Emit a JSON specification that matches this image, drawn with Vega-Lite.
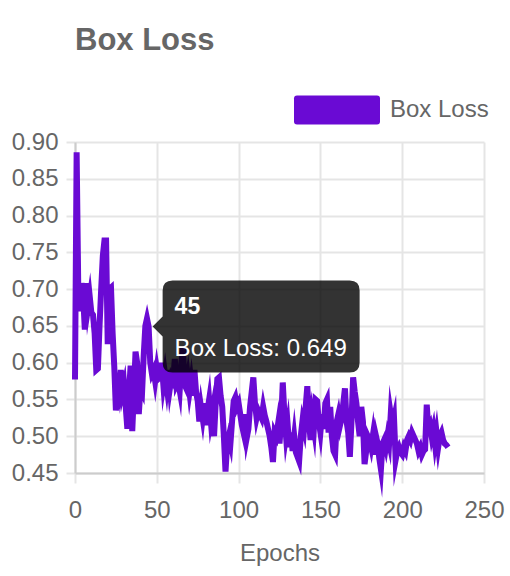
{
  "$schema": "https://vega.github.io/schema/vega-lite/v6.json",
  "width": 409,
  "height": 331,
  "autosize": {"type": "none"},
  "padding": {"left": 75, "top": 142, "right": 26, "bottom": 103},
  "background": "white",
  "title": {"text": "Box Loss", "anchor": "start", "frame": "group", "font": "Liberation Sans", "fontSize": 31, "fontWeight": "bold", "color": "#666666", "offset": 10},
  "config": {"view": {"stroke": null}, "font": "Liberation Sans"},
  "datasets": {
    "loss": [
      {"epoch":0,"loss":0.577},{"epoch":1,"loss":0.886},{"epoch":2,"loss":0.700},{"epoch":3,"loss":0.670},{"epoch":4,"loss":0.708},
      {"epoch":5,"loss":0.690},{"epoch":6,"loss":0.645},{"epoch":7,"loss":0.708},{"epoch":8,"loss":0.675},{"epoch":9,"loss":0.690},
      {"epoch":10,"loss":0.668},{"epoch":11,"loss":0.665},{"epoch":12,"loss":0.640},{"epoch":13,"loss":0.590},{"epoch":14,"loss":0.592},
      {"epoch":15,"loss":0.650},{"epoch":16,"loss":0.700},{"epoch":17,"loss":0.745},{"epoch":18,"loss":0.766},{"epoch":19,"loss":0.766},
      {"epoch":20,"loss":0.625},{"epoch":21,"loss":0.700},{"epoch":22,"loss":0.702},{"epoch":23,"loss":0.640},{"epoch":24,"loss":0.595},
      {"epoch":25,"loss":0.535},{"epoch":26,"loss":0.580},{"epoch":27,"loss":0.565},{"epoch":28,"loss":0.590},{"epoch":29,"loss":0.560},
      {"epoch":30,"loss":0.570},{"epoch":31,"loss":0.540},{"epoch":32,"loss":0.510},{"epoch":33,"loss":0.560},{"epoch":34,"loss":0.596},
      {"epoch":35,"loss":0.507},{"epoch":36,"loss":0.560},{"epoch":37,"loss":0.615},{"epoch":38,"loss":0.600},{"epoch":39,"loss":0.530},
      {"epoch":40,"loss":0.565},{"epoch":41,"loss":0.560},{"epoch":42,"loss":0.610},{"epoch":43,"loss":0.650},{"epoch":44,"loss":0.660},
      {"epoch":45,"loss":0.649},{"epoch":46,"loss":0.600},{"epoch":47,"loss":0.585},{"epoch":48,"loss":0.590},{"epoch":49,"loss":0.575},
      {"epoch":50,"loss":0.592},{"epoch":51,"loss":0.578},{"epoch":52,"loss":0.580},{"epoch":53,"loss":0.600},{"epoch":54,"loss":0.570},
      {"epoch":55,"loss":0.585},{"epoch":56,"loss":0.568},{"epoch":57,"loss":0.590},{"epoch":58,"loss":0.565},{"epoch":59,"loss":0.580},
      {"epoch":60,"loss":0.575},{"epoch":61,"loss":0.605},{"epoch":62,"loss":0.570},{"epoch":63,"loss":0.575},{"epoch":64,"loss":0.562},
      {"epoch":65,"loss":0.600},{"epoch":66,"loss":0.620},{"epoch":67,"loss":0.570},{"epoch":68,"loss":0.565},{"epoch":69,"loss":0.580},
      {"epoch":70,"loss":0.560},{"epoch":71,"loss":0.575},{"epoch":72,"loss":0.555},{"epoch":73,"loss":0.590},{"epoch":74,"loss":0.560},
      {"epoch":75,"loss":0.548},{"epoch":76,"loss":0.520},{"epoch":77,"loss":0.540},{"epoch":78,"loss":0.525},{"epoch":79,"loss":0.545},
      {"epoch":80,"loss":0.515},{"epoch":81,"loss":0.535},{"epoch":82,"loss":0.550},{"epoch":83,"loss":0.522},{"epoch":84,"loss":0.535},
      {"epoch":85,"loss":0.500},{"epoch":86,"loss":0.545},{"epoch":87,"loss":0.578},{"epoch":88,"loss":0.580},{"epoch":89,"loss":0.555},
      {"epoch":90,"loss":0.540},{"epoch":91,"loss":0.500},{"epoch":92,"loss":0.452},{"epoch":93,"loss":0.490},{"epoch":94,"loss":0.500},
      {"epoch":95,"loss":0.490},{"epoch":96,"loss":0.520},{"epoch":97,"loss":0.548},{"epoch":98,"loss":0.553},{"epoch":99,"loss":0.540},
      {"epoch":100,"loss":0.545},{"epoch":101,"loss":0.530},{"epoch":102,"loss":0.515},{"epoch":103,"loss":0.505},{"epoch":104,"loss":0.530},
      {"epoch":105,"loss":0.498},{"epoch":106,"loss":0.510},{"epoch":107,"loss":0.540},{"epoch":108,"loss":0.560},{"epoch":109,"loss":0.580},
      {"epoch":110,"loss":0.545},{"epoch":111,"loss":0.525},{"epoch":112,"loss":0.535},{"epoch":113,"loss":0.530},{"epoch":114,"loss":0.525},
      {"epoch":115,"loss":0.540},{"epoch":116,"loss":0.528},{"epoch":117,"loss":0.520},{"epoch":118,"loss":0.510},{"epoch":119,"loss":0.500},
      {"epoch":120,"loss":0.485},{"epoch":121,"loss":0.465},{"epoch":122,"loss":0.505},{"epoch":123,"loss":0.500},{"epoch":124,"loss":0.515},
      {"epoch":125,"loss":0.490},{"epoch":126,"loss":0.520},{"epoch":127,"loss":0.573},{"epoch":128,"loss":0.530},{"epoch":129,"loss":0.500},
      {"epoch":130,"loss":0.515},{"epoch":131,"loss":0.485},{"epoch":132,"loss":0.505},{"epoch":133,"loss":0.480},{"epoch":134,"loss":0.500},
      {"epoch":135,"loss":0.478},{"epoch":136,"loss":0.472},{"epoch":137,"loss":0.466},{"epoch":138,"loss":0.500},{"epoch":139,"loss":0.520},
      {"epoch":140,"loss":0.510},{"epoch":141,"loss":0.540},{"epoch":142,"loss":0.568},{"epoch":143,"loss":0.520},{"epoch":144,"loss":0.495},
      {"epoch":145,"loss":0.525},{"epoch":146,"loss":0.510},{"epoch":147,"loss":0.550},{"epoch":148,"loss":0.548},{"epoch":149,"loss":0.520},
      {"epoch":150,"loss":0.505},{"epoch":151,"loss":0.530},{"epoch":152,"loss":0.510},{"epoch":153,"loss":0.545},{"epoch":154,"loss":0.550},
      {"epoch":155,"loss":0.505},{"epoch":156,"loss":0.540},{"epoch":157,"loss":0.500},{"epoch":158,"loss":0.480},{"epoch":159,"loss":0.475},
      {"epoch":160,"loss":0.520},{"epoch":161,"loss":0.530},{"epoch":162,"loss":0.515},{"epoch":163,"loss":0.525},{"epoch":164,"loss":0.545},
      {"epoch":165,"loss":0.565},{"epoch":166,"loss":0.520},{"epoch":167,"loss":0.505},{"epoch":168,"loss":0.472},{"epoch":169,"loss":0.520},
      {"epoch":170,"loss":0.580},{"epoch":171,"loss":0.560},{"epoch":172,"loss":0.545},{"epoch":173,"loss":0.520},{"epoch":174,"loss":0.500},
      {"epoch":175,"loss":0.540},{"epoch":176,"loss":0.520},{"epoch":177,"loss":0.462},{"epoch":178,"loss":0.480},{"epoch":179,"loss":0.500},
      {"epoch":180,"loss":0.495},{"epoch":181,"loss":0.485},{"epoch":182,"loss":0.500},{"epoch":183,"loss":0.475},{"epoch":184,"loss":0.500},
      {"epoch":185,"loss":0.490},{"epoch":186,"loss":0.470},{"epoch":187,"loss":0.455},{"epoch":188,"loss":0.490},{"epoch":189,"loss":0.495},
      {"epoch":190,"loss":0.485},{"epoch":191,"loss":0.500},{"epoch":192,"loss":0.490},{"epoch":193,"loss":0.530},{"epoch":194,"loss":0.515},
      {"epoch":195,"loss":0.525},{"epoch":196,"loss":0.468},{"epoch":197,"loss":0.480},{"epoch":198,"loss":0.485},{"epoch":199,"loss":0.478},
      {"epoch":200,"loss":0.475},{"epoch":201,"loss":0.485},{"epoch":202,"loss":0.480},{"epoch":203,"loss":0.495},{"epoch":204,"loss":0.500},
      {"epoch":205,"loss":0.495},{"epoch":206,"loss":0.505},{"epoch":207,"loss":0.500},{"epoch":208,"loss":0.495},{"epoch":209,"loss":0.490},
      {"epoch":210,"loss":0.480},{"epoch":211,"loss":0.485},{"epoch":212,"loss":0.475},{"epoch":213,"loss":0.480},{"epoch":214,"loss":0.482},
      {"epoch":215,"loss":0.543},{"epoch":216,"loss":0.510},{"epoch":217,"loss":0.515},{"epoch":218,"loss":0.500},{"epoch":219,"loss":0.510},
      {"epoch":220,"loss":0.490},{"epoch":221,"loss":0.505},{"epoch":222,"loss":0.485},{"epoch":223,"loss":0.500},{"epoch":224,"loss":0.505},
      {"epoch":225,"loss":0.495},{"epoch":226,"loss":0.490},{"epoch":227,"loss":0.488},{"epoch":228,"loss":0.485}
    ],
    "tip": [{"epoch": 45, "loss": 0.649, "heading": "45", "label": "Box Loss: 0.649"}]
  },
  "layer": [
    {
      "data": {"name": "loss"},
      "mark": {"type": "line", "strokeWidth": 6, "strokeJoin": "miter", "strokeMiterLimit": 10, "strokeCap": "butt"},
      "encoding": {
        "x": {
          "field": "epoch", "type": "quantitative",
          "scale": {"domain": [0, 250], "nice": false},
          "axis": {
            "values": [0, 50, 100, 150, 200, 250], "tickCount": 20, "title": "Epochs",
            "titleFont": "Liberation Sans", "titleFontSize": 24, "titleFontWeight": "normal", "titleColor": "#666666", "titlePadding": 19,
            "labelFont": "Liberation Sans", "labelFontSize": 24, "labelColor": "#666666", "labelPadding": 15, "labelFlush": false, "labelOverlap": false,
            "tickSize": 10, "tickColor": "#e5e5e5", "tickWidth": 2,
            "gridColor": "#e5e5e5", "gridWidth": 2, "domainColor": "#cccccc", "domainWidth": 2
          }
        },
        "y": {
          "field": "loss", "type": "quantitative",
          "scale": {"domain": [0.45, 0.9], "nice": false, "zero": false},
          "axis": {
            "values": [0.45, 0.5, 0.55, 0.6, 0.65, 0.7, 0.75, 0.8, 0.85, 0.9], "tickCount": 20, "format": ".2f", "title": null,
            "labelFont": "Liberation Sans", "labelFontSize": 24, "labelColor": "#666666", "labelPadding": 8, "labelOverlap": false, "labelFlush": false,
            "tickSize": 9, "tickColor": "#e5e5e5", "tickWidth": 2,
            "gridColor": "#e5e5e5", "gridWidth": 2, "domainColor": "#cccccc", "domainWidth": 2
          }
        },
        "color": {
          "datum": "Box Loss",
          "scale": {"range": ["#6a0ad4"]},
          "legend": {
            "title": null, "orient": "none", "legendX": 219, "legendY": -75, "padding": 0,
            "symbolType": "M-0.93,-0.337H0.93Q1,-0.337 1,-0.267V0.267Q1,0.337 0.93,0.337H-0.93Q-1,0.337 -1,0.267V-0.267Q-1,-0.337 -0.93,-0.337Z",
            "symbolSize": 7396, "symbolFillColor": "#6a0ad4", "symbolStrokeWidth": 0, "symbolOpacity": 1,
            "labelFont": "Liberation Sans", "labelFontSize": 24, "labelColor": "#666666", "labelOffset": 10,
            "encode": {"symbols": {"update": {"fill": {"value": "#6a0ad4"}, "strokeWidth": {"value": 0}, "opacity": {"value": 1}}}}
          }
        }
      }
    },
    {
      "data": {"name": "tip"},
      "mark": {"type": "point", "shape": "M4,0L14,-10L14,-36Q14,-46 24,-46L201,-46Q211,-46 211,-36L211,36Q211,46 201,46L24,46Q14,46 14,36L14,10Z", "size": 4, "filled": true, "fill": "#000000", "opacity": 0.8, "strokeWidth": 0},
      "encoding": {
        "x": {"field": "epoch", "type": "quantitative"},
        "y": {"field": "loss", "type": "quantitative"}
      }
    },
    {
      "data": {"name": "tip"},
      "mark": {"type": "text", "align": "left", "baseline": "middle", "dx": 26, "dy": -20, "font": "Liberation Sans", "fontSize": 23, "fontWeight": "bold", "fill": "#ffffff"},
      "encoding": {
        "x": {"field": "epoch", "type": "quantitative"},
        "y": {"field": "loss", "type": "quantitative"},
        "text": {"field": "heading"}
      }
    },
    {
      "data": {"name": "tip"},
      "mark": {"type": "text", "align": "left", "baseline": "middle", "dx": 26, "dy": 22, "font": "Liberation Sans", "fontSize": 24, "fill": "#ffffff"},
      "encoding": {
        "x": {"field": "epoch", "type": "quantitative"},
        "y": {"field": "loss", "type": "quantitative"},
        "text": {"field": "label"}
      }
    }
  ]
}
